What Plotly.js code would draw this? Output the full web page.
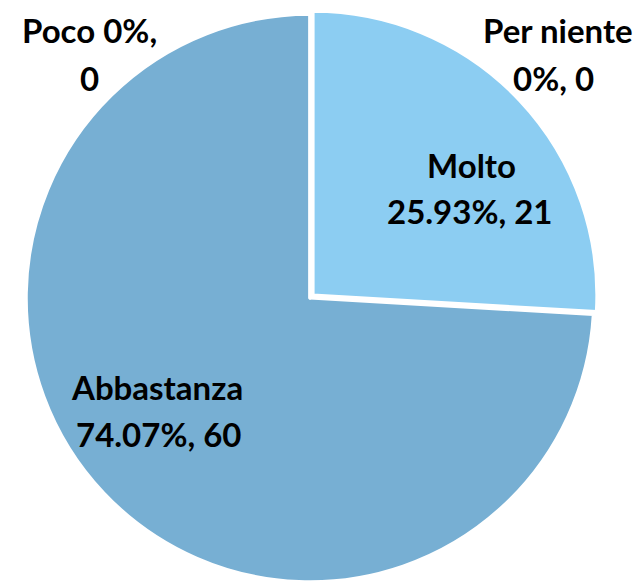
<!DOCTYPE html>
<html>
<head>
<meta charset="utf-8">
<script src="https://cdn.plot.ly/plotly-3.0.1.min.js"></script>
<style>
html,body{margin:0;padding:0;overflow:hidden;background:#fff;}
#chart{width:641px;height:600px;}
</style>
</head>
<body>
<div id="chart"></div>
<script>
const categories = ["Molto", "Abbastanza", "Poco", "Per niente"];
const values = [21, 60, 0, 0];
const colors = ["#8ccdf2", "#77afd3", "#5b9bd5", "#a5c8e8"];

const total = values.reduce((a, b) => a + b, 0);
const pctText = values.map(v => {
  const p = v / total * 100;
  return (v === 0 ? "0" : p.toFixed(2)) + "%";
});

// label lines per category (text only; positions kept separate)
const line1 = [categories[0], categories[1], categories[2] + " " + pctText[2] + ",", categories[3]];
const line2 = [pctText[0] + ", " + values[0], pctText[1] + ", " + values[1], String(values[2]), pctText[3] + ", " + values[3]];

// label anchor positions in pixels (x, y of line 1 and line 2)
const labelPos = [
  [[471, 165], [469, 211]],
  [[157, 387], [158, 434]],
  [[89, 30], [89, 78]],
  [[558, 30], [553, 78]]
];

const font = {family: "Lato, 'Open Sans', sans-serif", size: 33, color: "#000", weight: "bold"};
const W = 641, H = 600;

const trace = {
  type: "pie",
  labels: categories,
  values: values,
  textinfo: "none",
  sort: false,
  direction: "clockwise",
  rotation: 0,
  pull: [0.015, 0, 0, 0],
  marker: {colors: colors, line: {color: "#ffffff", width: 3}},
  hoverinfo: "none",
  domain: {x: [22/W, 598/W], y: [14/H, 590/H]}
};

const annotations = [];
categories.forEach((c, i) => {
  [line1[i], line2[i]].forEach((t, j) => {
    annotations.push({
      xref: "paper", yref: "paper",
      x: labelPos[i][j][0] / W, y: 1 - labelPos[i][j][1] / H,
      text: t, showarrow: false, font: font,
      xanchor: "center", yanchor: "middle", align: "center"
    });
  });
});

const layout = {
  width: W, height: H,
  margin: {l: 0, r: 0, t: 0, b: 0},
  showlegend: false,
  paper_bgcolor: "#ffffff",
  annotations: annotations
};

Plotly.newPlot("chart", [trace], layout, {staticPlot: true});
</script>
</body>
</html>
